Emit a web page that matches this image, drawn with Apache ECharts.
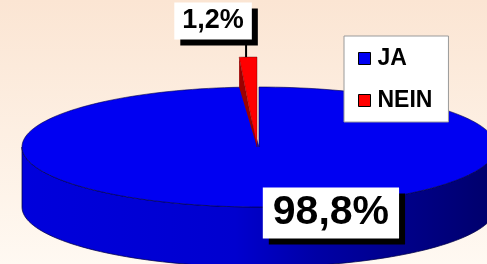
<!DOCTYPE html>
<html lang="de">
<head>
<meta charset="UTF-8">
<title>JA / NEIN</title>
<style>
    html, body { margin: 0; padding: 0; }
    #main { width: 487px; height: 264px; background: linear-gradient(to bottom, #fbe5d3, #fff9f2); }
</style>
</head>
<body>
<div id="main"></div>
<script src="https://cdn.jsdelivr.net/npm/echarts@6/dist/echarts.min.js"></script>
<script>
    // data
    var categories = ['JA', 'NEIN'];
    var values = [98.8, 1.2];

    // styles
    var topColors = ['#0000f2', '#ff0000'];
    var faceColors = ['#0000b0', '#9c0000'];
    var edgeColors = ['rgba(0,0,70,0.75)', 'rgba(90,0,0,0.5)'];
    var explode = [0, 30];
    var labelOffsets = [[63, 6], [-35, -36]];
    var labelFonts = [41, 27];
    var labelPads = [[5, 10], [5, 8]];

    // pie geometry (px)
    var cx = 259, cy = 147, rx = 237, ry = 60, depth = 60;

    var total = values.reduce(function (a, b) { return a + b; }, 0);

    // slice angles: first slice starts at 12 o'clock, clockwise
    function angles(i) {
        var before = 0;
        for (var k = 0; k < i; k++) before += values[k];
        var start = 90 - before / total * 360;
        var end = start - values[i] / total * 360;
        return [end, start];
    }
    function pt(deg, dy, dx) {
        var r = deg * Math.PI / 180;
        return [cx + dx + rx * Math.cos(r), cy + dy - ry * Math.sin(r)];
    }
    function arc(lo, hi, dy, dx) {
        var pts = [];
        var n = Math.max(2, Math.ceil((hi - lo) / 2));
        for (var j = 0; j <= n; j++) pts.push(pt(lo + (hi - lo) * j / n, dy, dx));
        return pts;
    }
    function fmt(v) {
        return v.toFixed(1).replace('.', ',') + '%';
    }

    var wallFill = new echarts.graphic.LinearGradient(cx - rx, 0, cx + rx, 0, [
        {offset: 0, color: '#0000dc'},
        {offset: 0.45, color: '#0000cf'},
        {offset: 0.62, color: '#0000a6'},
        {offset: 0.85, color: '#000082'},
        {offset: 1, color: '#00006a'}
    ], true);

    function renderSlice(params, api) {
        var i = params.seriesIndex;
        var a = angles(i), lo = a[0], hi = a[1];
        var lift = -explode[i];
        var nx = explode[i] ? -2 : 0;
        var center = [cx + nx, cy];
        var children = [];

        // outer wall (front half only)
        [-360, 0, 360].forEach(function (s) {
            var w0 = Math.max(lo, -180 + s), w1 = Math.min(hi, s);
            if (w1 > w0) {
                var top = arc(w0, w1, lift, nx);
                var bot = arc(w0, w1, lift + depth, nx).reverse();
                children.push({
                    type: 'polygon',
                    shape: {points: top.concat(bot)},
                    style: {fill: i === 0 ? wallFill : faceColors[i], stroke: edgeColors[i], lineWidth: 1}
                });
            }
        });

        // radial faces of the exploded slice
        if (explode[i]) {
            [lo, hi].forEach(function (phi) {
                children.push({
                    type: 'polygon',
                    shape: {points: [center, pt(phi, lift, nx), pt(phi, 0, nx)]},
                    style: {fill: faceColors[i]}
                });
            });
        }

        // top face
        children.push({
            type: 'polygon',
            shape: {points: [center].concat(arc(lo, hi, lift, nx))},
            style: {fill: topColors[i], stroke: edgeColors[i], lineWidth: 0.8}
        });

        // label
        var mid = (lo + hi) / 2;
        var anchor = pt(mid, lift, nx);
        var lx = anchor[0] + labelOffsets[i][0];
        var ly = anchor[1] + labelOffsets[i][1];
        if (explode[i]) {
            children.push({
                type: 'line',
                shape: {x1: anchor[0] - 2, y1: ly, x2: anchor[0] - 2, y2: anchor[1]},
                style: {stroke: '#000', lineWidth: 2}
            });
        }
        children.push({
            type: 'text',
            x: lx,
            y: ly,
            style: {
                text: fmt(values[i]),
                font: 'bold ' + labelFonts[i] + 'px "Liberation Sans", Arial, sans-serif',
                fill: '#000',
                align: 'center',
                verticalAlign: 'middle',
                backgroundColor: '#fff',
                padding: labelPads[i],
                shadowColor: '#000',
                shadowOffsetX: 6,
                shadowOffsetY: 6,
                shadowBlur: 0
            }
        });

        return {type: 'group', children: children};
    }

    var chart = echarts.init(document.getElementById('main'));

    var option = {
        animation: false,
        legend: {
            data: categories,
            orient: 'vertical',
            left: 344,
            top: 36,
            padding: [11, 16, 10, 14],
            itemGap: 19,
            itemWidth: 12,
            itemHeight: 12,
            icon: 'rect',
            backgroundColor: '#fff',
            borderColor: '#9a9a9a',
            borderWidth: 1,
            itemStyle: {borderColor: '#000', borderWidth: 1},
            textStyle: {
                fontSize: 23,
                fontWeight: 'bold',
                color: '#000',
                padding: [0, 0, 0, 2],
                fontFamily: '"Liberation Sans", Arial, sans-serif'
            }
        },
        series: categories.map(function (name, i) {
            return {
                type: 'custom',
                name: name,
                coordinateSystem: 'none',
                silent: true,
                renderItem: renderSlice,
                itemStyle: {color: topColors[i]},
                data: [values[i]]
            };
        })
    };

    chart.setOption(option);
</script>
</body>
</html>
